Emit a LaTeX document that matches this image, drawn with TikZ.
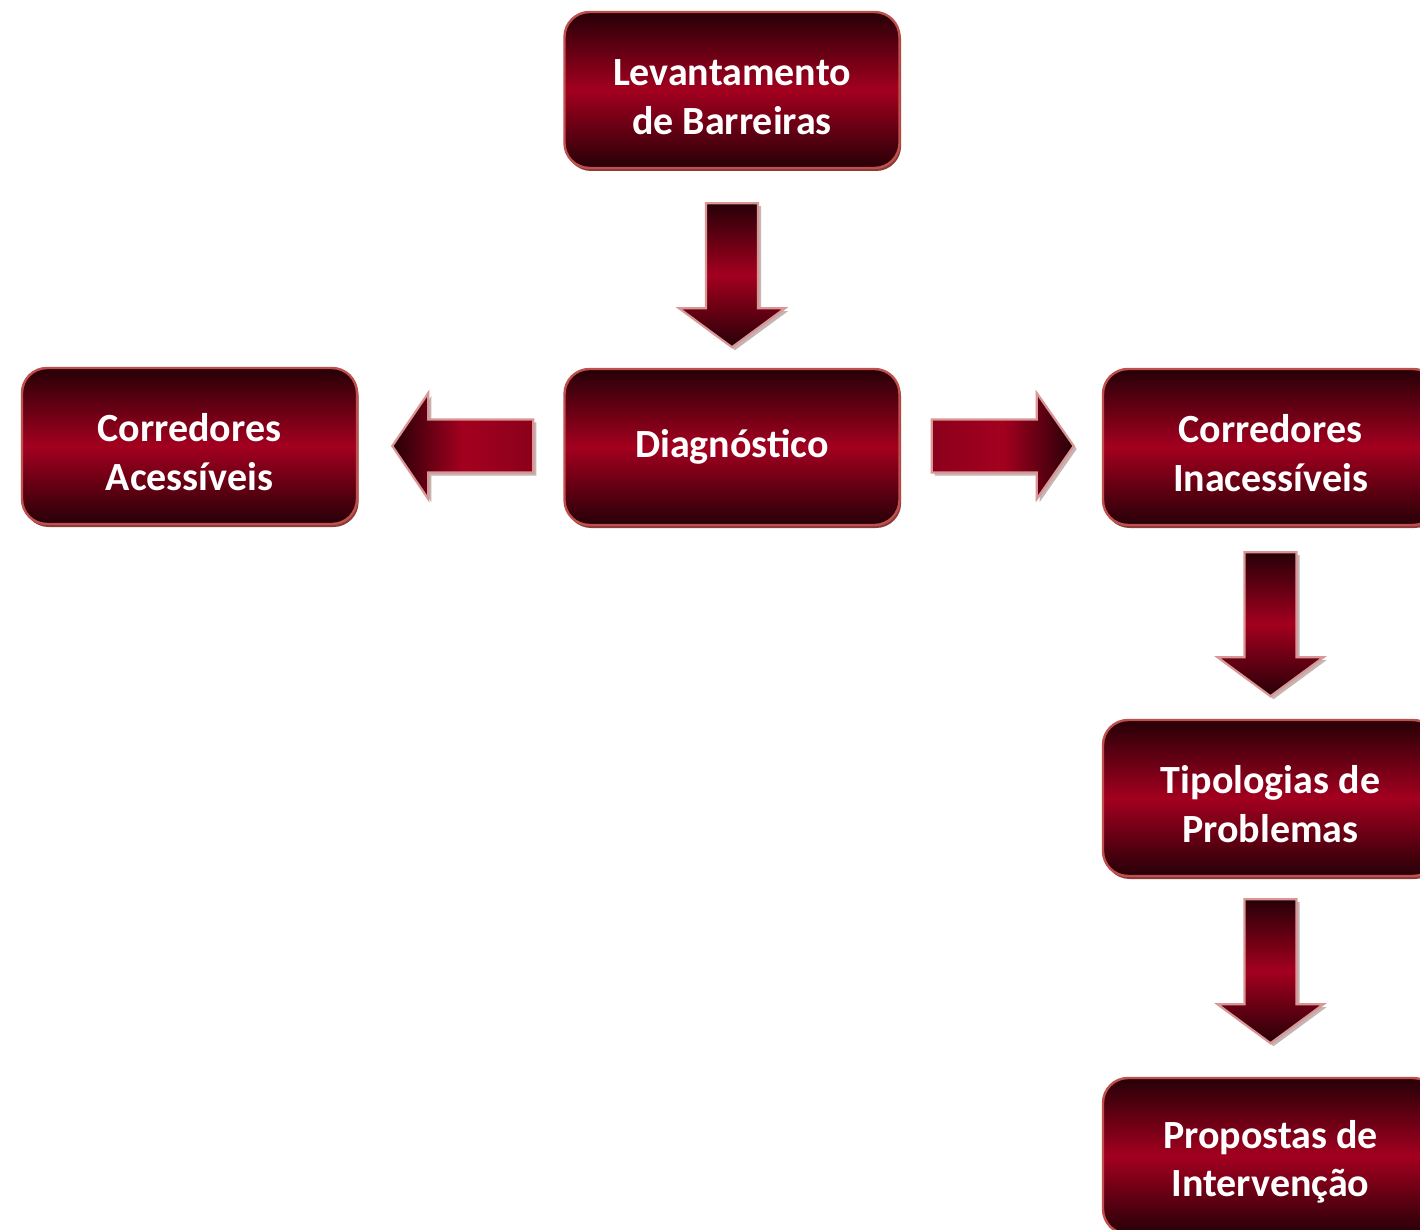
\documentclass[tikz,border=0pt]{standalone}
\usepackage{fontspec}
\setmainfont{Carlito}
\usetikzlibrary{calc,shadows}
\definecolor{bdark}{HTML}{260007}
\definecolor{bred}{HTML}{A3001F}
\definecolor{bedge}{HTML}{C0504D}
\definecolor{bshadow}{HTML}{8A3A38}
\definecolor{aedge}{HTML}{D99694}
\definecolor{ashadow}{HTML}{C4B4B4}
\newcommand\mytopstrut{\rule{0pt}{20pt}}
\begin{document}
\begin{tikzpicture}[x=0.5pt,y=-0.5pt,
  box/.style={rounded corners=12.5pt, draw=bedge, line width=1.2pt,
    top color=bdark, bottom color=bdark, middle color=bred,
    minimum width=167.5pt, minimum height=78pt, align=center, text=white,
    font=\bfseries\fontsize{20}{24.3}\selectfont,
    drop shadow={shadow xshift=0.8pt, shadow yshift=-1.5pt, fill=bshadow, opacity=1}},
  arr/.style={draw=aedge, line width=1.1pt},
  ashd/.style={fill=ashadow},
  darr/.pic={
    \fill[ashd] (-23,3) -- (29,3) -- (29,108) -- (56,108) -- (3,147) -- (-50,108) -- (-23,108) -- cycle;
    \draw[arr, top color=bdark, bottom color=bdark, middle color=bred]
      (-26,0) -- (26,0) -- (26,105) -- (53,105) -- (0,144) -- (-53,105) -- (-26,105) -- cycle;
  },
  rarr/.pic={
    \fill[ashd] (3,-23.5) -- (108,-23.5) -- (108,-50) -- (145,3) -- (108,56) -- (108,29.5) -- (3,29.5) -- cycle;
    \draw[arr, left color=bred!85!black, right color=bdark, middle color=bred]
      (0,-26.5) -- (105,-26.5) -- (105,-53) -- (142,0) -- (105,53) -- (105,26.5) -- (0,26.5) -- cycle;
  },
  larr/.pic={
    \fill[ashd] (3,-23.5) -- (-102,-23.5) -- (-102,-50) -- (-138,3) -- (-102,56) -- (-102,29.5) -- (3,29.5) -- cycle;
    \draw[arr, right color=bred!85!black, left color=bdark, middle color=bred]
      (0,-26.5) -- (-105,-26.5) -- (-105,-53) -- (-141,0) -- (-105,53) -- (-105,26.5) -- (0,26.5) -- cycle;
  }]
\useasboundingbox (0,0) rectangle (1420,1230);
\clip (0,0) rectangle (1420,1230);
\node[box] (lev) at (732,90) {\mytopstrut Levantamento\\de Barreiras};
\node[box] (diag) at (732,447) {Diagnóstico};
\node[box] (ca) at (189.5,446) {\mytopstrut Corredores\\Acessíveis};
\node[box] (ci) at (1270.5,447) {\mytopstrut Corredores\\Inacessíveis};
\node[box] (tip) at (1270.5,798) {\mytopstrut Tipologias de\\Problemas};
\node[box] (prop) at (1270.5,1156) {\mytopstrut Propostas de\\Intervenção};
\pic at ($(lev.south)+(0,34)$) {darr};
\pic at ($(diag.east)+(31,-1)$) {rarr};
\pic at ($(diag.west)+(-30,-1)$) {larr};
\pic at ($(ci.south)+(0,26)$) {darr};
\pic at ($(tip.south)+(0,22)$) {darr};
\end{tikzpicture}
\end{document}
